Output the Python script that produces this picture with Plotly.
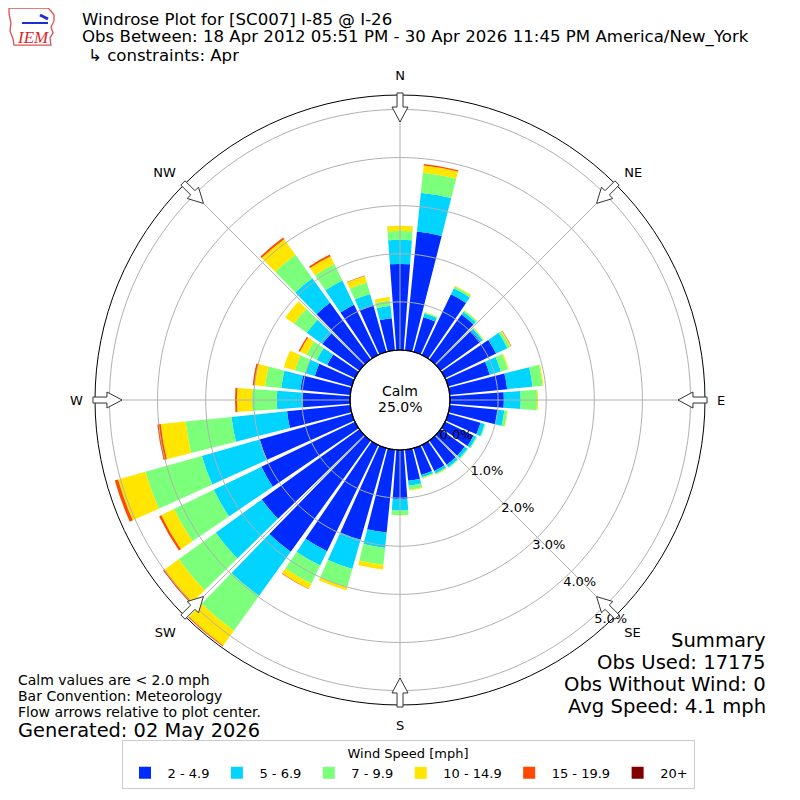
import math
import plotly.graph_objects as go

# wind direction bins (degrees, meteorological) and speed bins
directions = [0, 10, 20, 30, 40, 50, 60, 70, 80, 90, 100, 110,
              120, 130, 140, 150, 160, 170, 180, 190, 200, 210, 220, 230,
              240, 250, 260, 270, 280, 290, 300, 310, 320, 330, 340, 350]
speed_labels = ["2 - 4.9", "5 - 6.9", "7 - 9.9", "10 - 14.9", "15 - 19.9", "20+"]
speed_colors = ["#002bff", "#00d4ff", "#7cff7b", "#ffe500", "#ff4900", "#800000"]

# percent of observations per direction, one list per speed bin
pct_2_5 = [1.79, 2.48, 0.75, 1.40, 1.15, 1.02, 1.18, 0.90, 1.20, 1.12, 1.00, 0.70,
           0.66, 0.62, 0.62, 0.60, 0.58, 0.65, 1.02, 1.73, 1.98, 2.45, 2.85, 2.50,
           2.16, 1.99, 1.32, 0.98, 1.04, 0.80, 0.64, 0.95, 1.45, 1.16, 1.01, 0.67]
pct_5_7 = [0.50, 0.81, 0.08, 0.14, 0.07, 0.06, 0.26, 0.24, 0.53, 0.35, 0.14, 0.09,
           0.06, 0.07, 0.06, 0.06, 0.05, 0.10, 0.24, 0.32, 0.63, 0.33, 1.13, 1.18,
           1.10, 1.25, 1.16, 0.54, 0.40, 0.21, 0.24, 0.40, 0.63, 0.56, 0.24, 0.26]
pct_7_10 = [0.19, 0.42, 0.02, 0.04, 0.03, 0.02, 0.06, 0.15, 0.21, 0.34, 0.06, 0.02,
            0.02, 0.02, 0.02, 0.02, 0.02, 0.08, 0.09, 0.35, 0.39, 0.42, 0.89, 0.95,
            0.92, 1.22, 0.96, 0.52, 0.34, 0.22, 0.24, 0.33, 0.60, 0.38, 0.25, 0.11]
pct_10_15 = [0.10, 0.15, 0.01, 0.02, 0.01, 0.01, 0.02, 0.02, 0.02, 0.02, 0.01, 0.00,
             0.00, 0.00, 0.00, 0.01, 0.01, 0.02, 0.01, 0.10, 0.07, 0.12, 0.38, 0.36,
             0.29, 0.59, 0.52, 0.31, 0.22, 0.24, 0.15, 0.22, 0.40, 0.18, 0.14, 0.07]
pct_15_20 = [0.00, 0.03, 0.00, 0.00, 0.00, 0.00, 0.01, 0.00, 0.00, 0.00, 0.00, 0.00,
             0.00, 0.00, 0.00, 0.00, 0.00, 0.00, 0.00, 0.00, 0.00, 0.01, 0.02, 0.04,
             0.05, 0.07, 0.07, 0.04, 0.04, 0.00, 0.03, 0.00, 0.04, 0.04, 0.01, 0.00]
pct_20_up = [0.00, 0.00, 0.00, 0.00, 0.00, 0.00, 0.00, 0.00, 0.00, 0.00, 0.00, 0.00,
             0.00, 0.00, 0.00, 0.00, 0.00, 0.00, 0.00, 0.00, 0.00, 0.00, 0.00, 0.00,
             0.00, 0.00, 0.00, 0.00, 0.00, 0.00, 0.00, 0.00, 0.00, 0.00, 0.00, 0.00]

radial_ticks = [0, 1, 2, 3, 4, 5]
compass_angles = [0, 45, 90, 135, 180, 225, 270, 315]
compass_labels = ["N", "NE", "E", "SE", "S", "SW", "W", "NW"]
calm_pct = 25.0

FONT = "DejaVu Sans"
W = H = 800
OFF = 8                  # page body margin pushes the figure by 8px
CX, CY = 400, 400        # plot centre in window pixels
R_OUT, R_HOLE = 305, 50  # outer radius, calm circle radius
RMAX = 5.3


def px(x):
    return (x - OFF) / W


def py(y):
    return 1 - (y - OFF) / H


fig = go.Figure()

series = [pct_2_5, pct_5_7, pct_7_10, pct_10_15, pct_15_20, pct_20_up]
for vals, name, col in zip(series, speed_labels, speed_colors):
    fig.add_trace(go.Barpolar(
        r=vals, theta=directions, width=8.5, name=name,
        marker=dict(color=col, line=dict(width=0)),
    ))

# grid drawn over the bars, like the original
ring_theta = list(range(0, 361, 2))
for t in radial_ticks[1:]:
    fig.add_trace(go.Scatterpolar(
        r=[t] * len(ring_theta), theta=ring_theta, mode="lines",
        line=dict(color="#b0b0b0", width=1), showlegend=False, hoverinfo="skip"))
for a in compass_angles:
    fig.add_trace(go.Scatterpolar(
        r=[0, RMAX], theta=[a, a], mode="lines",
        line=dict(color="#b0b0b0", width=1), showlegend=False, hoverinfo="skip"))

fig.update_layout(
    width=W, height=H,
    margin=dict(l=0, r=0, t=0, b=0),
    paper_bgcolor="white",
    font=dict(family=FONT, color="black"),
    barmode="stack",
    polar=dict(
        domain=dict(x=[px(CX - R_OUT), px(CX + R_OUT)], y=[py(CY + R_OUT), py(CY - R_OUT)]),
        hole=R_HOLE / R_OUT,
        bgcolor="white",
        bargap=0,
        radialaxis=dict(
            range=[0, RMAX], tickvals=radial_ticks, ticktext=["%.1f%%" % v for v in radial_ticks],
            showgrid=False, showline=False, ticks="", angle=-50, side="counterclockwise",
            tickangle=-50, tickfont=dict(size=13, family=FONT),
        ),
        angularaxis=dict(
            rotation=90, direction="clockwise",
            tickvals=compass_angles, ticktext=compass_labels,
            showgrid=False, showline=True, linecolor="black", linewidth=1,
            ticks="outside", ticklen=9, tickcolor="rgba(0,0,0,0)",
            tickfont=dict(size=13, family=FONT),
        ),
    ),
    legend=dict(
        orientation="h", x=0.5, xanchor="center", y=py(789), yanchor="bottom",
        itemwidth=35,
        title=dict(text="Wind Speed [mph]", side="top center", font=dict(size=13)),
        font=dict(size=13), bordercolor="#cccccc", borderwidth=1, bgcolor="white",
        traceorder="normal",
    ),
)

# flow arrows on the rim
shapes = []
for a in compass_angles:
    rad = math.radians(a)
    ux, uy = math.sin(rad), -math.cos(rad)   # outward direction in pixel space
    vx, vy = -uy, ux                          # perpendicular

    def pt(r, w):
        return (CX + ux * r + vx * w, CY + uy * r + vy * w)

    pts = [pt(278, 0), pt(293, 8), pt(293, 3), pt(307, 3), pt(307, -3), pt(293, -3), pt(293, -8)]
    path = "M " + " L ".join("%.4f,%.4f" % (px(x), py(y)) for x, y in pts) + " Z"
    shapes.append(dict(type="path", path=path, xref="paper", yref="paper",
                       fillcolor="white", line=dict(color="#333333", width=1)))

# calm circle outline
shapes.append(dict(type="circle", xref="paper", yref="paper",
                   x0=px(CX - R_HOLE), x1=px(CX + R_HOLE), y0=py(CY + R_HOLE), y1=py(CY - R_HOLE),
                   line=dict(color="black", width=1.2)))

# small IEM logo: state outline plus station glyph
iowa = [(9, 8), (48, 8), (51, 11), (54, 15), (54, 21), (51, 27), (53, 33), (50, 38),
        (51, 45), (14, 45), (13, 39), (10, 31), (11, 23), (9, 14)]
shapes.append(dict(type="path", xref="paper", yref="paper", layer="above",
                   path="M " + " L ".join("%.4f,%.4f" % (px(x), py(y)) for x, y in iowa) + " Z",
                   fillcolor="rgba(255,255,255,0)",
                   line=dict(color="#d9534f", width=1.3)))
shapes.append(dict(type="line", xref="paper", yref="paper",
                   x0=px(22), x1=px(48), y0=py(23), y1=py(23),
                   line=dict(color="#1a2fd6", width=2)))
shapes.append(dict(type="line", xref="paper", yref="paper",
                   x0=px(40), x1=px(48), y0=py(15), y1=py(19),
                   line=dict(color="#1a2fd6", width=3)))
fig.update_layout(shapes=shapes)

annotations = []


def note(text, x, y, size, xanchor="left", color="black", family=FONT, height=None):
    d = dict(text=text, x=px(x), y=py(y), xref="paper", yref="paper",
             xanchor=xanchor, yanchor="middle", showarrow=False,
             font=dict(size=size, color=color, family=family))
    if height:
        d["height"] = height
    annotations.append(d)


note("Windrose Plot for [SC007] I-85 @ I-26", 80, 19, 16.6, height=20)
note("Obs Between: 18 Apr 2012 05:51 PM - 30 Apr 2026 11:45 PM America/New_York", 80, 37, 16.6, height=20)
note("↳ constraints: Apr", 86, 55, 16.6, height=20)
note("<i>IEM</i>", 33, 37, 17, xanchor="center", color="#d62728", family="Liberation Serif", height=16)

note("Calm", 400, 391, 14, xanchor="center", height=16)
note("%.1f%%" % calm_pct, 400, 407, 14, xanchor="center", height=16)

note("Calm values are < 2.0 mph", 16, 680, 14, height=16)
note("Bar Convention: Meteorology", 16, 696, 14, height=16)
note("Flow arrows relative to plot center.", 16, 712, 14, height=16)
note("Generated: 02 May 2026", 16, 730, 19.4, height=20)

note("Summary", 768, 640, 19.6, xanchor="right", height=22)
note("Obs Used: 17175", 768, 662, 19.6, xanchor="right", height=22)
note("Obs Without Wind: 0", 768, 684, 19.6, xanchor="right", height=22)
note("Avg Speed: 4.1 mph", 768, 706, 19.6, xanchor="right", height=22)

fig.update_layout(annotations=annotations)

fig.write_html("out.html")
